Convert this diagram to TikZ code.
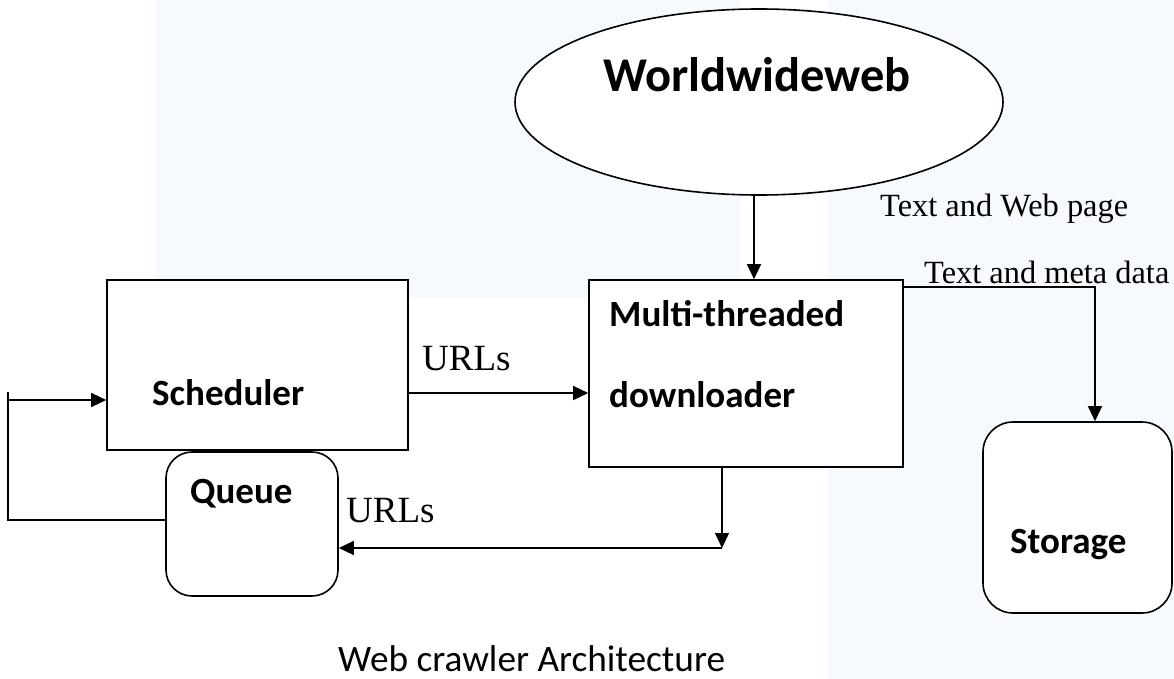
\documentclass[tikz,border=0pt]{standalone}
\usepackage{fontspec}
\setmainfont{Liberation Serif}
\newfontfamily\carlito{Carlito}
\usetikzlibrary{arrows.meta,shapes.geometric}
\definecolor{bgblue}{RGB}{246,250,254}
\tikzset{
  boxline/.style={draw=black,line width=1.6pt,fill=white,inner sep=0pt},
  rbox/.style={boxline,rounded corners=26pt},
  conn/.style={draw=black,line width=1.3pt},
  arr/.style={conn,-{Triangle[length=15pt,width=14pt]}},
  boldlbl/.style={inner sep=0pt,anchor=base west,font=\carlito\bfseries\fontsize{37}{42}\selectfont},
  serlbl/.style={inner sep=0pt,anchor=base west,font=\fontsize{32.4}{37}\selectfont},
  urllbl/.style={inner sep=0pt,anchor=base west,font=\fontsize{37}{42}\selectfont}
}
\begin{document}
\begin{tikzpicture}[x=1pt,y=-1pt]
\useasboundingbox (0,0) rectangle (1174,679);
% background tint
\fill[bgblue] (156,0) rectangle (740,298);
\fill[bgblue] (828,0) rectangle (1174,679);
% nodes
\node[boxline,ellipse,minimum width=488pt,minimum height=186pt] (www) at (759,102) {};
\node[boxline,minimum width=301pt,minimum height=170pt] (sched) at (257.5,365) {};
\node[boxline,minimum width=314pt,minimum height=187pt] (dl) at (746,373.5) {};
\node[rbox,minimum width=172pt,minimum height=144pt] (queue) at (252,524) {};
\node[rbox,rounded corners=30pt,minimum width=189pt,minimum height=191pt] (store) at (1077.5,517.5) {};
% texts
\node[inner sep=0pt,anchor=base west,font=\carlito\bfseries\fontsize{48.5}{52}\selectfont] (twww) at (603,92) {Worldwideweb};
\node[boldlbl] (tsched) at (152,405) {Scheduler};
\node[boldlbl] (tqueue) at (190,503) {Queue};
\node[boldlbl] (tmulti) at (609,326) {Multi-threaded};
\node[boldlbl] (tdown) at (609,407) {downloader};
\node[boldlbl] (tstore) at (1010,553) {Storage};
\node[urllbl] (url1) at (422,370) {URLs};
\node[urllbl] (url2) at (346,522) {URLs};
\node[serlbl] (twp) at (880,216) {Text and Web page};
\node[serlbl] (tmeta) at (924,283) {Text and meta data};
\node[inner sep=0pt,anchor=base west,text depth=0pt,font=\carlito\fontsize{37.3}{42}\selectfont] (caption) at (338,671) {Web crawler Architecture};
% helper coordinates
\coordinate (cA) at (754,0);
\coordinate (cU) at (0,393);
\coordinate (cM) at (1095,287);
\coordinate (cD) at (722,548);
\coordinate (cQ) at (0,520);
\coordinate (cL) at (8,520);
\coordinate (cT) at (8,392);
\coordinate (cS) at (8,400);
% connectors
\draw[arr] (www.south -| cA) -- (dl.north -| cA);
\draw[arr] (sched.east |- cU) -- (dl.west |- cU);
\draw[arr] (dl.east |- cM) -- (cM) -- (store.north -| cM);
\draw[arr] (dl.south -| cD) -- (cD);
\draw[arr] (cD) -- (queue.east |- cD);
\draw[conn] (queue.west |- cQ) -- (cL) -- (cT);
\draw[arr] (cS) -- (sched.west |- cS);
\end{tikzpicture}
\end{document}
